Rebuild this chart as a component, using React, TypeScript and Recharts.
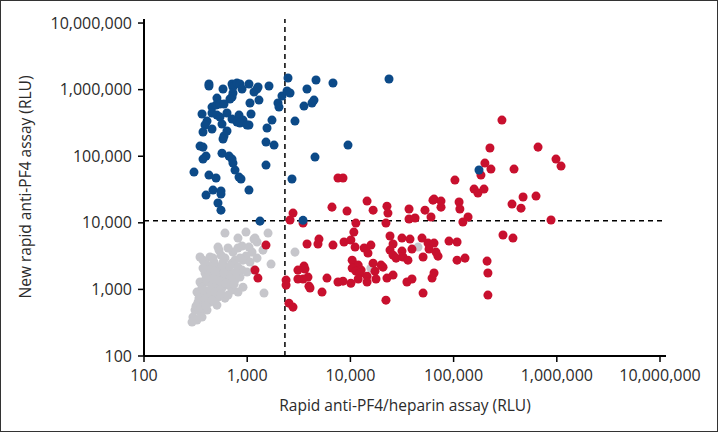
import React from "react";
import {
  ScatterChart,
  Scatter,
  XAxis,
  YAxis,
  ZAxis,
  ReferenceLine,
} from "recharts";

// [rapid anti-PF4/heparin RLU, new rapid anti-PF4 RLU]
const bluePoints: [number, number][] = [
  [426, 1213000], [426, 1132000], [583, 1021000], [713, 1213000], [728, 1094000],
  [796, 1256000], [851, 1213000], [891, 1021000], [1040, 1213000], [1164, 920000],
  [1245, 1021000], [1274, 1094000], [1626, 1132000], [2485, 1493000], [2173, 801000],
  [2432, 952000], [2600, 889000], [3795, 1021000], [4643, 1393000], [6780, 1256000],
  [509, 747000], [728, 889000], [713, 774000], [681, 722000], [1064, 629000],
  [1300, 697000], [456, 547000], [499, 586000], [545, 607000], [596, 607000],
  [1987, 629000], [2032, 547000], [3550, 566000], [4246, 629000], [4437, 697000],
  [365, 430000], [456, 445000], [509, 415000], [545, 387000], [637, 445000],
  [833, 415000], [1089, 430000], [713, 361000], [796, 326000], [910, 349000],
  [851, 315000], [995, 294000], [1040, 294000], [1738, 349000], [2904, 337000],
  [408, 337000], [390, 294000], [570, 304000], [373, 231000], [456, 256000],
  [637, 239000], [1556, 265000], [596, 201000], [583, 181000], [349, 142000],
  [373, 137000], [1521, 163000], [1820, 147000], [9480, 147000], [399, 100500],
  [373, 90600], [570, 111000], [667, 100500], [713, 90600], [728, 78900],
  [4540, 97000], [305, 57800], [426, 52100], [499, 47000], [762, 61900],
  [833, 48600], [871, 45400], [1521, 73600], [2716, 45400], [466, 31000],
  [399, 26100], [557, 30000], [557, 27000], [1040, 31000], [521, 19800],
  [557, 15500], [1330, 10600], [3475, 10900], [23660, 1442000], [176200, 62000],
];

const redPoints: [number, number][] = [
  [294000, 349000], [225000, 133000], [658000, 137000], [201000, 78900], [230000, 64100],
  [184000, 52100], [385000, 64100], [982000, 90600], [1099000, 71100], [103000, 43800],
  [158000, 32100], [172000, 28000], [197000, 32100], [64600, 22700], [75500, 21200],
  [75500, 17200], [52800, 15500], [113000, 20500], [115000, 16100], [368000, 19100],
  [450000, 16600], [471000, 24400], [629000, 25200], [60400, 12200], [138000, 12200],
  [123000, 10300], [879000, 11000], [301000, 6550], [376000, 5900], [7580, 47000],
  [8480, 47000], [6630, 17200], [9270, 15000], [14500, 21200], [16600, 15500],
  [22600, 17800], [23100, 14000], [37000, 16100], [63100, 21900], [37000, 11400],
  [42300, 11800], [2780, 14000], [2600, 11000], [3475, 9910], [11300, 9910],
  [22100, 9910], [10800, 7260], [24200, 6330], [31600, 5900], [37800, 5700],
  [49400, 5900], [4960, 5700], [4850, 4800], [3800, 4800], [6780, 4630],
  [8670, 5140], [10100, 5510], [11100, 4320], [13600, 4180], [15800, 4630],
  [14800, 3510], [25900, 4800], [24200, 3890], [31600, 3760], [39500, 4030],
  [56500, 4960], [64600, 4960], [57800, 4030], [67500, 3630], [70600, 3160],
  [90200, 5320], [108000, 5140], [1520, 4630], [25900, 3270], [27700, 2950],
  [32300, 3060], [36100, 2750], [50600, 3060], [108000, 2750], [129000, 2950],
  [211000, 2660], [10400, 2750], [11900, 2320], [12700, 1950], [16600, 2480],
  [17300, 1880], [19800, 2320], [20700, 2160], [10400, 2090], [11300, 1880],
  [12400, 1760], [3550, 2240], [3630, 2020], [3100, 1950], [3880, 1530],
  [3100, 1430], [3475, 1430], [5930, 1480], [7580, 1290], [8480, 1330],
  [10100, 1240], [11900, 1430], [14500, 1580], [14500, 1290], [17700, 1430],
  [22600, 1480], [25900, 1640], [35300, 1290], [39500, 1430], [61800, 1480],
  [64600, 1760], [215000, 1760], [1190, 1950], [1270, 1480], [2380, 1380],
  [2380, 1160], [3970, 1120], [4060, 1050], [5310, 912], [22100, 690],
  [50600, 881], [2540, 622], [2780, 542], [215000, 822],
];

const grayPoints: [number, number][] = [
  [609, 7010], [973, 7260], [1592, 7010], [814, 5900], [1190, 5900], [1245, 5140],
  [1164, 5700], [521, 4320], [533, 3890], [814, 4180], [891, 4480], [1040, 4320],
  [1114, 3630], [973, 3160], [349, 3060], [373, 2750], [436, 3060], [609, 2950],
  [583, 2570], [762, 2750], [713, 2480], [910, 2750], [408, 2320], [456, 2090],
  [509, 2160], [545, 1950], [637, 2090], [652, 1820], [814, 2160], [891, 1950],
  [995, 1820], [390, 1760], [436, 1640], [487, 1640], [521, 1480], [609, 1530],
  [713, 1640], [762, 1380], [910, 1080], [349, 1290], [365, 1080], [417, 1290],
  [456, 1160], [509, 1160], [570, 1050], [652, 1160], [713, 977], [814, 912],
  [1455, 881], [326, 912], [349, 822], [408, 881], [456, 822], [521, 766],
  [609, 740], [652, 822], [334, 644], [373, 581], [436, 644], [509, 581],
  [312, 489], [349, 456], [408, 489], [298, 384], [326, 346], [365, 384],
  [292, 323], [2904, 3630], [1702, 2400], [1164, 1950], [45200, 4320], [15800, 2090],
  [477, 2570], [570, 2320], [681, 2240], [417, 1950], [487, 1880], [596, 1760],
  [681, 1430], [545, 1330], [466, 1430], [399, 1480], [623, 1240], [745, 1200],
  [851, 1530], [381, 977], [436, 977], [487, 912], [557, 851], [341, 740],
  [390, 715], [456, 690], [319, 561], [357, 524], [399, 561], [1064, 2570],
  [1245, 2950], [1422, 3890], [728, 3630], [652, 4180], [466, 2950], [557, 3270],
  [373, 2090], [851, 2950], [779, 1820],
];

const axisTicks = [100, 1000, 10000, 100000, 1000000, 10000000];
const xCutoff = 2320;
const yCutoff = 10700;

const BLUE = "#0c4a88";
const RED = "#c8102e";
const GRAY = "#c6c6cb";
const TEXT = "#2b2b2b";
const FONT = "'Open Sans', sans-serif";

const toRows = (pts: [number, number][]) => pts.map(([x, y]) => ({ x, y }));
const fmt = (v: number) => v.toLocaleString("en-US");

export default function App() {
  const tickStyle = { fill: TEXT, fontSize: 16, fontFamily: FONT };
  return (
    <div
      style={{
        position: "fixed",
        top: 0,
        left: 0,
        width: 718,
        height: 432,
        background: "#fff",
      }}
    >
      <ScatterChart
        width={718}
        height={432}
        margin={{ top: 19, right: 52, bottom: 0, left: 0 }}
      >
        <XAxis
          type="number"
          dataKey="x"
          scale="log"
          domain={[100, 11430000]}
          allowDataOverflow
          ticks={axisTicks}
          tickFormatter={fmt}
          height={76}
          tickSize={6}
          tickMargin={8}
          axisLine={{ stroke: "#000", strokeWidth: 2 }}
          tickLine={{ stroke: "#000", strokeWidth: 1.5 }}
          tick={tickStyle}
        />
        <YAxis
          type="number"
          dataKey="y"
          scale="log"
          domain={[100, 11500000]}
          allowDataOverflow
          ticks={axisTicks}
          tickFormatter={fmt}
          width={144}
          tickSize={6}
          tickMargin={6}
          axisLine={{ stroke: "#000", strokeWidth: 2 }}
          tickLine={{ stroke: "#000", strokeWidth: 1.5 }}
          tick={tickStyle}
        />
        <ZAxis range={[38, 38]} />
        <ReferenceLine
          x={xCutoff}
          stroke="#000"
          strokeWidth={1.5}
          strokeDasharray="5 4"
        />
        <ReferenceLine
          y={yCutoff}
          stroke="#000"
          strokeWidth={1.5}
          strokeDasharray="5 4"
        />
        <Scatter data={toRows(grayPoints)} fill={GRAY} isAnimationActive={false} />
        <Scatter data={toRows(redPoints)} fill={RED} isAnimationActive={false} />
        <Scatter data={toRows(bluePoints)} fill={BLUE} isAnimationActive={false} />
        <text
          x={405}
          y={411}
          textAnchor="middle"
          fill={TEXT}
          fontSize={15.5}
          fontFamily={FONT}
        >
          Rapid anti-PF4/heparin assay (RLU)
        </text>
        <text
          x={31}
          y={187}
          transform="rotate(-90 31 187)"
          textAnchor="middle"
          fill={TEXT}
          fontSize={15.5}
          fontFamily={FONT}
        >
          New rapid anti-PF4 assay (RLU)
        </text>
      </ScatterChart>
      <div
        style={{
          position: "absolute",
          inset: 0,
          border: "1px solid #333",
          pointerEvents: "none",
        }}
      />
    </div>
  );
}
